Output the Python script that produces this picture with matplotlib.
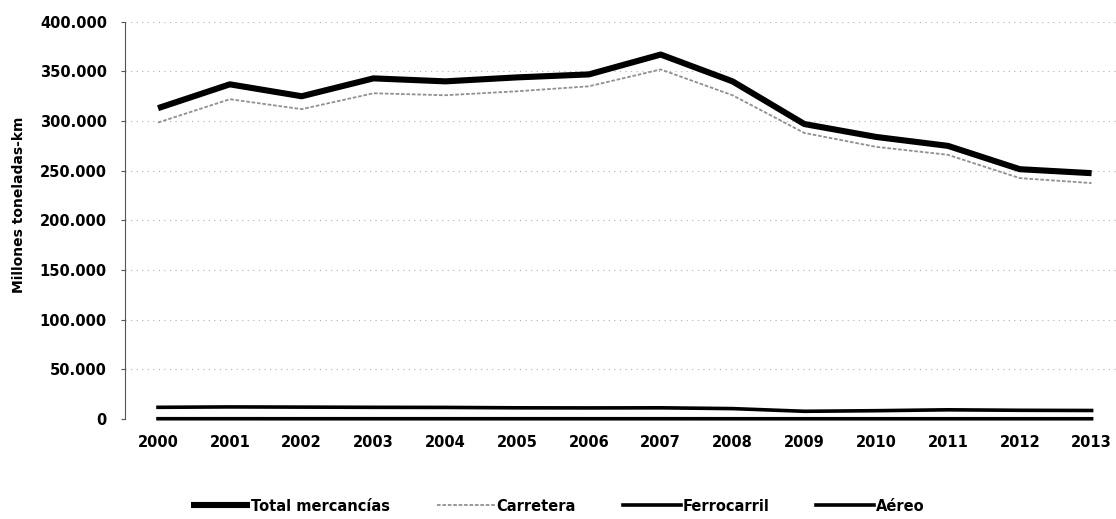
import matplotlib
matplotlib.use("Agg")
import matplotlib.pyplot as plt
from matplotlib.ticker import FuncFormatter, MultipleLocator

years = [2000, 2001, 2002, 2003, 2004, 2005, 2006, 2007, 2008, 2009, 2010, 2011, 2012, 2013]
total = [313000, 337000, 325000, 343000, 340000, 344000, 347000, 367000, 340000, 297000, 284000, 275000, 251500, 247500]
carretera = [298500, 322000, 312000, 328000, 326000, 330000, 335000, 352000, 326000, 288000, 274000, 266000, 242500, 237500]
ferrocarril = [11600, 12000, 11800, 11600, 11500, 11100, 11000, 11100, 10300, 7600, 8200, 9100, 8600, 8400]
aereo = [100, 100, 90, 90, 90, 90, 90, 90, 80, 80, 80, 80, 80, 80]
labels = ["Total mercancías", "Carretera", "Ferrocarril", "Aéreo"]

plt.rcParams['font.family'] = ['DejaVu Sans']
fig = plt.figure(figsize=(11.16, 5.19), dpi=100)
ax = fig.add_axes([0.112, 0.193, 0.888, 0.765])

x = list(range(len(years)))
l1, = ax.plot(x, total, color='black', lw=4.4, solid_capstyle='butt', zorder=5)
l2, = ax.plot(x, carretera, color='#909090', lw=1.3, ls=(0, (2, 1)), zorder=4)
l3, = ax.plot(x, ferrocarril, color='black', lw=2.6, zorder=3, clip_on=False)
l4, = ax.plot(x, aereo, color='black', lw=2.6, zorder=3, clip_on=False)

ax.set_xlim(-0.46, 13.34)
ax.set_ylim(0, 400000)
ax.yaxis.set_major_locator(MultipleLocator(50000))
ax.yaxis.set_major_formatter(FuncFormatter(lambda v, p: f"{int(v):,}".replace(",", ".")))
ax.set_xticks(x)
ax.set_xticklabels([str(y) for y in years])

ax.grid(axis='y', color='#b0b0b0', lw=0.8, ls=(0, (1, 4)))
ax.set_axisbelow(True)
for s in ['top', 'right', 'bottom']:
    ax.spines[s].set_visible(False)
ax.spines['left'].set_color('#555555')
ax.spines['left'].set_linewidth(0.8)
ax.spines['left'].set_linestyle((0, (1, 1)))

ax.tick_params(axis='y', length=3, width=0.8, color='#555555', pad=10, labelsize=10.5)
ax.tick_params(axis='x', length=0, pad=12, labelsize=10.5)
for t in ax.get_yticklabels() + ax.get_xticklabels():
    t.set_fontweight('bold')

ax.set_ylabel("Millones toneladas-km", fontsize=10, fontweight='bold')
ax.yaxis.set_label_coords(-0.1, 0.54)

fig.legend([l1, l2, l3, l4], labels, loc='center', bbox_to_anchor=(0.50, 0.025),
           ncol=4, frameon=False, handlelength=4.0, handletextpad=0.1,
           columnspacing=3.2, prop={'size': 10.5, 'weight': 'bold'})

fig.savefig("out.png", dpi=100)
